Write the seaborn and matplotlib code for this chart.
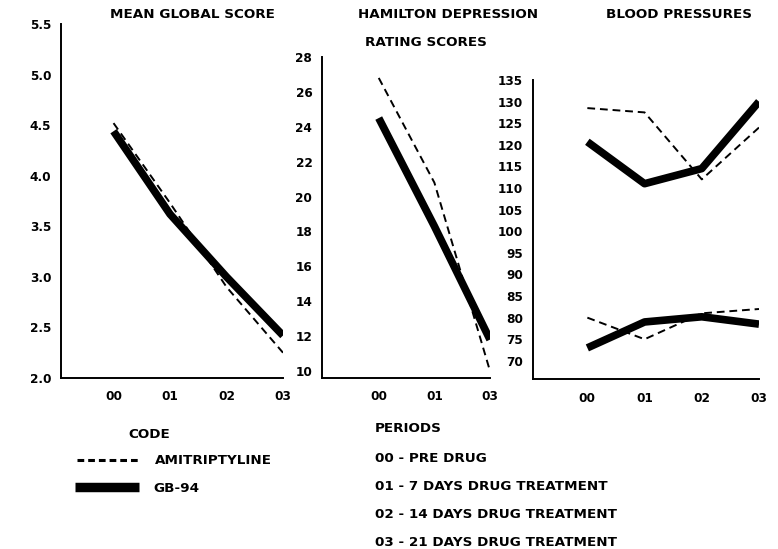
import matplotlib
matplotlib.use("Agg")
import matplotlib.pyplot as plt
import seaborn as sns
import pandas as pd

sns.set_theme(style="white")
plt.rcParams["font.family"] = ["DejaVu Sans"]
plt.rcParams["font.weight"] = "bold"
plt.rcParams["text.color"] = "black"

# Study periods
periods = ["00", "01", "02", "03"]
hamilton_periods = ["00", "01", "03"]

# Mean global score
global_amitriptyline = [4.52, 3.73, 2.90, 2.25]
global_gb94 = [4.44, 3.62, 3.00, 2.42]

# Hamilton depression rating scores
hamilton_amitriptyline = [26.8, 20.8, 10.0]
hamilton_gb94 = [24.5, 18.3, 11.8]

# Blood pressures (systolic, diastolic)
systolic_amitriptyline = [128.5, 127.5, 112.0, 124.0]
systolic_gb94 = [120.7, 111.0, 114.5, 130.0]
diastolic_amitriptyline = [80.0, 75.0, 81.0, 82.0]
diastolic_gb94 = [73.0, 79.0, 80.2, 78.5]

codes = ["AMITRIPTYLINE", "GB-94"]
period_notes = ["00 - PRE DRUG", "01 - 7 DAYS DRUG TREATMENT",
                "02 - 14 DAYS DRUG TREATMENT", "03 - 21 DAYS DRUG TREATMENT"]

DASH = dict(color="black", lw=1.4, linestyle=(0, (4, 2.5)))
SOLID = dict(color="black", lw=5.5, solid_capstyle="butt")
TICK_FS = 8.7
TEXT_FS = 9.7

W, H = 778, 549
fig = plt.figure(figsize=(W / 100, H / 100), dpi=100)


def px_axes(x0, y0, x1, y1):
    return fig.add_axes([x0 / W, 1 - y1 / H, (x1 - x0) / W, (y1 - y0) / H])


def draw(ax, labels, series_dash, series_solid):
    xs = list(range(len(labels)))
    for vals in series_dash:
        df = pd.DataFrame({"x": xs, "y": vals})
        sns.lineplot(data=df, x="x", y="y", ax=ax, **DASH)
    for vals in series_solid:
        df = pd.DataFrame({"x": xs, "y": vals})
        sns.lineplot(data=df, x="x", y="y", ax=ax, **SOLID)
    ax.set_xticks(xs)
    ax.set_xticklabels(labels)
    ax.set_xlabel("")
    ax.set_ylabel("")
    for s in ("top", "right"):
        ax.spines[s].set_visible(False)
    for s in ("left", "bottom"):
        ax.spines[s].set_color("black")
        ax.spines[s].set_linewidth(1.4)
    ax.tick_params(axis="both", direction="out", length=4, width=1.2,
                   colors="black", labelsize=TICK_FS)
    ax.tick_params(axis="x", pad=5)
    ax.tick_params(axis="y", pad=3)
    for t in ax.get_xticklabels() + ax.get_yticklabels():
        t.set_fontweight("bold")
        t.set_color("black")
    ax.patch.set_alpha(0)


# Panel 1: mean global score
ax1 = px_axes(61, 24, 283, 378)
draw(ax1, periods, [global_amitriptyline], [global_gb94])
ax1.set_ylim(2.0, 5.5)
ax1.set_xlim(-0.93, 3)
ax1.set_yticks([2.0, 2.5, 3.0, 3.5, 4.0, 4.5, 5.0, 5.5])
ax1.set_yticklabels(["2.0", "2.5", "3.0", "3.5", "4.0", "4.5", "5.0", "5.5"])

# Panel 2: Hamilton depression rating scores
ax2 = px_axes(322, 57, 490, 378)
draw(ax2, hamilton_periods, [hamilton_amitriptyline], [hamilton_gb94])
ax2.set_ylim(9.6, 28)
ax2.set_xlim(-1.02, 2)
ax2.set_yticks(list(range(10, 29, 2)))
ax2.set_yticklabels([str(v) for v in range(10, 29, 2)])

# Panel 3: blood pressures
ax3 = px_axes(533, 80, 759, 379)
draw(ax3, periods, [systolic_amitriptyline, diastolic_amitriptyline],
     [systolic_gb94, diastolic_gb94])
ax3.set_ylim(65.8, 135)
ax3.set_xlim(-0.95, 3)
ax3.set_yticks(list(range(70, 136, 5)))
ax3.set_yticklabels([str(v) for v in range(70, 136, 5)])


def fig_text(x, y, s, **kw):
    fig.text(x / W, 1 - y / H, s, fontsize=TEXT_FS, fontweight="bold",
             color="black", va="center", **kw)


# Panel titles
fig_text(192, 15, "MEAN GLOBAL SCORE", ha="center")
fig_text(448, 15, "HAMILTON DEPRESSION", ha="center")
fig_text(426, 42, "RATING SCORES", ha="center")
fig_text(679, 15, "BLOOD PRESSURES", ha="center")

# Code legend
fig_text(128, 434, "CODE", ha="left")
fig.add_artist(plt.Line2D([77 / W, 138 / W], [1 - 460 / H, 1 - 460 / H],
                          transform=fig.transFigure, color="black", lw=2.2,
                          linestyle=(0, (2.2, 1.3))))
fig.add_artist(plt.Line2D([75 / W, 139 / W], [1 - 487 / H, 1 - 487 / H],
                          transform=fig.transFigure, color="black", lw=6.8,
                          solid_capstyle="butt"))
fig_text(155, 460, codes[0], ha="left")
fig_text(153, 489, codes[1], ha="left")

# Period notes
fig_text(375, 429, "PERIODS", ha="left")
for i, note in enumerate(period_notes):
    fig_text(375, 458 + i * 28, note, ha="left")

fig.savefig("out.png", dpi=100, facecolor="white")
